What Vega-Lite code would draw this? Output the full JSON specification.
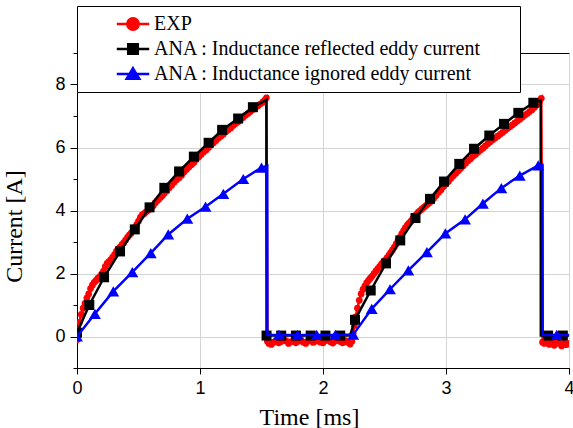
{
  "$schema": "https://vega.github.io/schema/vega-lite/v6.json",
  "width": 492,
  "height": 315,
  "autosize": {"type": "none"},
  "padding": {"left": 77, "top": 53, "right": 4, "bottom": 60},
  "background": "white",
  "config": {
    "view": {"stroke": "black", "strokeWidth": 1},
    "axis": {
      "domainColor": "black",
      "tickColor": "black",
      "gridColor": "#d4d4d4",
      "labelFont": "Liberation Sans",
      "labelFontSize": 18,
      "labelColor": "black",
      "titleFont": "Liberation Serif",
      "titleFontSize": 24,
      "titleFontWeight": "normal",
      "titleColor": "black"
    }
  },
  "datasets": {
    "exp": [
      {"t":0.000,"i":-0.10},{"t":0.010,"i":0.20},{"t":0.020,"i":0.45},{"t":0.035,"i":0.70},{"t":0.050,"i":0.90},{"t":0.065,"i":1.05},{"t":0.080,"i":1.22},{"t":0.095,"i":1.35},{"t":0.110,"i":1.52},{"t":0.125,"i":1.63},{"t":0.140,"i":1.72},{"t":0.155,"i":1.78},{"t":0.170,"i":1.85},{"t":0.185,"i":1.90},{"t":0.200,"i":1.98},{"t":0.215,"i":2.08},{"t":0.230,"i":2.22},{"t":0.245,"i":2.32},{"t":0.260,"i":2.38},{"t":0.275,"i":2.44},{"t":0.290,"i":2.52},{"t":0.305,"i":2.60},{"t":0.320,"i":2.70},{"t":0.335,"i":2.78},{"t":0.350,"i":2.84},{"t":0.365,"i":2.92},{"t":0.380,"i":2.98},{"t":0.395,"i":3.06},{"t":0.410,"i":3.15},{"t":0.425,"i":3.22},{"t":0.440,"i":3.28},{"t":0.455,"i":3.36},{"t":0.470,"i":3.46},{"t":0.485,"i":3.55},{"t":0.500,"i":3.66},{"t":0.515,"i":3.78},{"t":0.530,"i":3.86},{"t":0.545,"i":3.90},{"t":0.560,"i":3.95},{"t":0.575,"i":4.00},{"t":0.590,"i":4.05},{"t":0.605,"i":4.10},{"t":0.620,"i":4.15},{"t":0.635,"i":4.24},{"t":0.650,"i":4.30},{"t":0.665,"i":4.36},{"t":0.680,"i":4.42},{"t":0.695,"i":4.48},{"t":0.710,"i":4.55},{"t":0.730,"i":4.62},{"t":0.750,"i":4.72},{"t":0.770,"i":4.80},{"t":0.790,"i":4.90},{"t":0.810,"i":4.98},{"t":0.830,"i":5.04},{"t":0.850,"i":5.12},{"t":0.870,"i":5.22},{"t":0.890,"i":5.30},{"t":0.910,"i":5.38},{"t":0.930,"i":5.45},{"t":0.950,"i":5.52},{"t":0.970,"i":5.62},{"t":0.990,"i":5.70},{"t":1.010,"i":5.78},{"t":1.030,"i":5.86},{"t":1.050,"i":5.92},{"t":1.070,"i":6.00},{"t":1.090,"i":6.08},{"t":1.110,"i":6.15},{"t":1.130,"i":6.22},{"t":1.150,"i":6.30},{"t":1.170,"i":6.36},{"t":1.190,"i":6.42},{"t":1.210,"i":6.50},{"t":1.230,"i":6.56},{"t":1.250,"i":6.62},{"t":1.270,"i":6.70},{"t":1.290,"i":6.76},{"t":1.310,"i":6.82},{"t":1.330,"i":6.90},{"t":1.350,"i":6.95},{"t":1.370,"i":7.02},{"t":1.390,"i":7.08},{"t":1.410,"i":7.14},{"t":1.430,"i":7.20},{"t":1.450,"i":7.26},{"t":1.470,"i":7.32},{"t":1.490,"i":7.38},{"t":1.510,"i":7.44},{"t":1.525,"i":7.50},{"t":1.540,"i":7.58},
      {"t":1.548,"i":-0.15},{"t":1.56,"i":-0.22},{"t":1.58,"i":-0.25},{"t":1.60,"i":-0.18},{"t":1.62,"i":-0.12},{"t":1.64,"i":-0.20},{"t":1.66,"i":-0.16},{"t":1.68,"i":-0.10},{"t":1.70,"i":-0.14},{"t":1.72,"i":-0.22},{"t":1.74,"i":-0.17},{"t":1.76,"i":-0.12},{"t":1.78,"i":-0.20},{"t":1.80,"i":-0.15},{"t":1.82,"i":-0.10},{"t":1.84,"i":-0.18},{"t":1.86,"i":-0.22},{"t":1.88,"i":-0.14},{"t":1.90,"i":-0.12},{"t":1.92,"i":-0.19},{"t":1.94,"i":-0.15},{"t":1.96,"i":-0.10},{"t":1.98,"i":-0.18},{"t":2.00,"i":-0.20},{"t":2.02,"i":-0.13},{"t":2.04,"i":-0.11},{"t":2.06,"i":-0.17},{"t":2.08,"i":-0.21},{"t":2.10,"i":-0.14},{"t":2.12,"i":-0.10},{"t":2.14,"i":-0.16},{"t":2.16,"i":-0.20},{"t":2.18,"i":-0.13},{"t":2.20,"i":-0.18},{"t":2.22,"i":-0.24},{"t":2.235,"i":-0.15},
      {"t":2.245,"i":0.10},{"t":2.255,"i":0.35},{"t":2.265,"i":0.62},{"t":2.28,"i":0.90},{"t":2.295,"i":1.15},{"t":2.31,"i":1.35},{"t":2.325,"i":1.50},{"t":2.34,"i":1.60},{"t":2.355,"i":1.70},{"t":2.37,"i":1.78},{"t":2.385,"i":1.85},{"t":2.40,"i":1.92},{"t":2.415,"i":2.00},{"t":2.43,"i":2.08},{"t":2.445,"i":2.15},{"t":2.46,"i":2.22},{"t":2.475,"i":2.30},{"t":2.49,"i":2.36},{"t":2.505,"i":2.42},{"t":2.52,"i":2.50},{"t":2.535,"i":2.58},{"t":2.55,"i":2.66},{"t":2.565,"i":2.75},{"t":2.58,"i":2.84},{"t":2.595,"i":2.94},{"t":2.61,"i":3.05},{"t":2.625,"i":3.15},{"t":2.64,"i":3.26},{"t":2.655,"i":3.36},{"t":2.67,"i":3.46},{"t":2.685,"i":3.54},{"t":2.70,"i":3.60},{"t":2.715,"i":3.66},{"t":2.73,"i":3.74},{"t":2.745,"i":3.82},{"t":2.76,"i":3.88},{"t":2.775,"i":3.95},{"t":2.79,"i":4.00},{"t":2.805,"i":4.05},{"t":2.82,"i":4.10},{"t":2.835,"i":4.15},{"t":2.85,"i":4.20},{"t":2.865,"i":4.25},{"t":2.88,"i":4.30},{"t":2.90,"i":4.38},{"t":2.92,"i":4.48},{"t":2.94,"i":4.58},{"t":2.96,"i":4.66},{"t":2.98,"i":4.76},{"t":3.00,"i":4.84},{"t":3.02,"i":4.92},{"t":3.04,"i":5.02},{"t":3.06,"i":5.10},{"t":3.08,"i":5.18},{"t":3.10,"i":5.26},{"t":3.12,"i":5.34},{"t":3.14,"i":5.42},{"t":3.16,"i":5.50},{"t":3.18,"i":5.58},{"t":3.20,"i":5.64},{"t":3.22,"i":5.72},{"t":3.24,"i":5.78},{"t":3.26,"i":5.85},{"t":3.28,"i":5.92},{"t":3.30,"i":5.98},{"t":3.32,"i":6.05},{"t":3.34,"i":6.12},{"t":3.36,"i":6.18},{"t":3.38,"i":6.25},{"t":3.40,"i":6.30},{"t":3.42,"i":6.36},{"t":3.44,"i":6.42},{"t":3.46,"i":6.48},{"t":3.48,"i":6.54},{"t":3.50,"i":6.60},{"t":3.52,"i":6.66},{"t":3.54,"i":6.72},{"t":3.56,"i":6.78},{"t":3.58,"i":6.84},{"t":3.60,"i":6.90},{"t":3.62,"i":6.96},{"t":3.64,"i":7.02},{"t":3.66,"i":7.08},{"t":3.68,"i":7.14},{"t":3.70,"i":7.20},{"t":3.72,"i":7.28},{"t":3.74,"i":7.36},{"t":3.76,"i":7.46},{"t":3.775,"i":7.56},
      {"t":3.785,"i":-0.18},{"t":3.80,"i":-0.22},{"t":3.82,"i":-0.15},{"t":3.84,"i":-0.25},{"t":3.86,"i":-0.20},{"t":3.88,"i":-0.28},{"t":3.90,"i":-0.18},{"t":3.92,"i":-0.22},{"t":3.94,"i":-0.30},{"t":3.96,"i":-0.20},{"t":3.98,"i":-0.26},{"t":4.00,"i":-0.22}
    ],
    "reflLine": [
      {"t":0,"i":0.12},{"t":0.10,"i":1.0},{"t":0.22,"i":1.88},{"t":0.35,"i":2.70},{"t":0.47,"i":3.40},{"t":0.59,"i":4.10},{"t":0.71,"i":4.72},{"t":0.83,"i":5.24},{"t":0.95,"i":5.71},{"t":1.07,"i":6.15},{"t":1.18,"i":6.56},{"t":1.31,"i":6.92},{"t":1.43,"i":7.28},{"t":1.54,"i":7.51},{"t":1.541,"i":0.03},{"t":1.66,"i":0.03},{"t":1.78,"i":0.03},{"t":1.90,"i":0.03},{"t":2.02,"i":0.03},{"t":2.14,"i":0.03},{"t":2.22,"i":0.03},{"t":2.26,"i":0.53},{"t":2.388,"i":1.46},{"t":2.512,"i":2.32},{"t":2.628,"i":3.05},{"t":2.752,"i":3.76},{"t":2.87,"i":4.37},{"t":2.984,"i":4.92},{"t":3.108,"i":5.48},{"t":3.228,"i":5.96},{"t":3.352,"i":6.38},{"t":3.472,"i":6.75},{"t":3.588,"i":7.10},{"t":3.71,"i":7.42},{"t":3.77,"i":7.50},{"t":3.771,"i":0.03},{"t":3.83,"i":0.03},{"t":3.95,"i":0.03},{"t":4.0,"i":0.03}
    ],
    "reflMk": [
      {"t":0,"i":0.12},{"t":0.10,"i":1.0},{"t":0.22,"i":1.88},{"t":0.35,"i":2.70},{"t":0.47,"i":3.40},{"t":0.59,"i":4.10},{"t":0.71,"i":4.72},{"t":0.83,"i":5.24},{"t":0.95,"i":5.71},{"t":1.07,"i":6.15},{"t":1.18,"i":6.56},{"t":1.31,"i":6.92},{"t":1.43,"i":7.28},{"t":1.541,"i":0.03},{"t":1.66,"i":0.03},{"t":1.78,"i":0.03},{"t":1.90,"i":0.03},{"t":2.02,"i":0.03},{"t":2.14,"i":0.03},{"t":2.26,"i":0.53},{"t":2.388,"i":1.46},{"t":2.512,"i":2.32},{"t":2.628,"i":3.05},{"t":2.752,"i":3.76},{"t":2.87,"i":4.37},{"t":2.984,"i":4.92},{"t":3.108,"i":5.48},{"t":3.228,"i":5.96},{"t":3.352,"i":6.38},{"t":3.472,"i":6.75},{"t":3.588,"i":7.10},{"t":3.71,"i":7.42},{"t":3.83,"i":0.03},{"t":3.95,"i":0.03}
    ],
    "ignLine": [
      {"t":0,"i":0.0},{"t":0.146,"i":0.72},{"t":0.295,"i":1.43},{"t":0.45,"i":2.04},{"t":0.60,"i":2.65},{"t":0.742,"i":3.24},{"t":0.897,"i":3.74},{"t":1.045,"i":4.12},{"t":1.19,"i":4.53},{"t":1.352,"i":5.0},{"t":1.50,"i":5.36},{"t":1.547,"i":5.42},{"t":1.548,"i":0.05},{"t":1.642,"i":0.05},{"t":1.794,"i":0.05},{"t":1.949,"i":0.05},{"t":2.10,"i":0.05},{"t":2.246,"i":0.06},{"t":2.396,"i":0.88},{"t":2.545,"i":1.50},{"t":2.694,"i":2.10},{"t":2.845,"i":2.68},{"t":2.995,"i":3.27},{"t":3.155,"i":3.72},{"t":3.30,"i":4.22},{"t":3.45,"i":4.71},{"t":3.60,"i":5.11},{"t":3.75,"i":5.43},{"t":3.785,"i":5.45},{"t":3.786,"i":0.05},{"t":3.90,"i":0.05},{"t":4.0,"i":0.05}
    ],
    "ignMk": [
      {"t":0,"i":0.0},{"t":0.146,"i":0.72},{"t":0.295,"i":1.43},{"t":0.45,"i":2.04},{"t":0.60,"i":2.65},{"t":0.742,"i":3.24},{"t":0.897,"i":3.74},{"t":1.045,"i":4.12},{"t":1.19,"i":4.53},{"t":1.352,"i":5.0},{"t":1.50,"i":5.36},{"t":1.642,"i":0.05},{"t":1.794,"i":0.05},{"t":1.949,"i":0.05},{"t":2.10,"i":0.05},{"t":2.246,"i":0.06},{"t":2.396,"i":0.88},{"t":2.545,"i":1.50},{"t":2.694,"i":2.10},{"t":2.845,"i":2.68},{"t":2.995,"i":3.27},{"t":3.155,"i":3.72},{"t":3.30,"i":4.22},{"t":3.45,"i":4.71},{"t":3.60,"i":5.11},{"t":3.75,"i":5.43},{"t":3.90,"i":0.05}
    ]
  },
  "encoding": {
    "x": {
      "field": "t", "type": "quantitative",
      "scale": {"domain": [0, 4], "nice": false, "zero": false},
      "axis": {
        "title": "Time [ms]",
        "format": "d",
        "values": [0, 0.5, 1, 1.5, 2, 2.5, 3, 3.5, 4],
        "labelExpr": "datum.value % 1 ? '' : datum.label",
        "tickSize": {"condition": {"test": "datum.value % 1 != 0", "value": 3}, "value": 6},
        "gridOpacity": {"condition": {"test": "datum.value % 1 != 0", "value": 0}, "value": 1},
        "labelPadding": 5,
        "titlePadding": 8,
        "titleX": 232,
        "labelFlush": false,
        "labelOverlap": false
      }
    },
    "y": {
      "field": "i", "type": "quantitative",
      "scale": {"domain": [-1, 9], "nice": false, "zero": false},
      "axis": {
        "title": "Current [A]",
        "format": "d",
        "values": [-1, 0, 1, 2, 3, 4, 5, 6, 7, 8, 9],
        "labelExpr": "datum.value % 2 == 0 ? datum.label : ''",
        "tickSize": {"condition": {"test": "datum.value % 2 != 0", "value": 4}, "value": 7},
        "gridOpacity": {"condition": {"test": "datum.value % 2 != 0", "value": 0}, "value": 1},
        "labelPadding": 5,
        "titlePadding": 28,
        "titleY": 173,
        "labelFlush": false,
        "labelOverlap": false
      }
    }
  },
  "layer": [
    {
      "data": {"name": "exp"},
      "mark": {"type": "line", "strokeWidth": 2.5, "clip": true},
      "encoding": {
        "color": {
          "datum": "EXP",
          "scale": {
            "domain": ["EXP", "ANA : Inductance reflected eddy current", "ANA : Inductance ignored eddy current"],
            "range": ["#ff0000", "#000000", "#0000ff"]
          },
          "legend": {
            "orient": "none",
            "legendX": 0,
            "legendY": -47,
            "title": null,
            "fillColor": "white",
            "strokeColor": "black",
            "padding": 8,
            "labelFont": "Liberation Serif",
            "labelFontSize": 20,
            "labelColor": "black",
            "labelLimit": 700,
            "labelOffset": 11,
            "symbolOffset": 38,
            "symbolSize": 144,
            "symbolStrokeWidth": 2.5,
            "rowPadding": 4,
            "labelExpr": "datum.label + '\u00a0\u00a0\u00a0\u00a0\u00a0\u00a0\u200b'",
            "encode": {
              "symbols": {
                "update": {
                  "shape": {"signal": "datum.value === 'EXP' ? 'M-2.7,0H2.7M-0.95,0A0.95,0.95,0,1,0,0.95,0A0.95,0.95,0,1,0,-0.95,0Z' : datum.value === 'ANA : Inductance reflected eddy current' ? 'M-2.7,0H2.7M-0.8,-0.8H0.8V0.8H-0.8Z' : 'M-2.7,0H2.7M0,-0.95L1.05,0.8L-1.05,0.8Z'"},
                  "fill": {"scale": "color", "field": "value"},
                  "stroke": {"scale": "color", "field": "value"},
                  "strokeWidth": {"value": 2.5},
                  "opacity": {"value": 1}
                }
              }
            }
          }
        }
      }
    },
    {
      "data": {"name": "exp"},
      "mark": {"type": "point", "shape": "circle", "filled": true, "size": 45, "opacity": 1, "clip": true},
      "encoding": {"color": {"datum": "EXP"}}
    },
    {
      "data": {"name": "reflLine"},
      "mark": {"type": "line", "strokeWidth": 2.5, "clip": true},
      "encoding": {"color": {"datum": "ANA : Inductance reflected eddy current"}}
    },
    {
      "data": {"name": "reflMk"},
      "mark": {"type": "point", "shape": "square", "filled": true, "size": 100, "opacity": 1, "clip": true},
      "encoding": {"color": {"datum": "ANA : Inductance reflected eddy current"}}
    },
    {
      "data": {"name": "ignLine"},
      "mark": {"type": "line", "strokeWidth": 2.5, "clip": true},
      "encoding": {"color": {"datum": "ANA : Inductance ignored eddy current"}}
    },
    {
      "data": {"name": "ignMk"},
      "mark": {"type": "point", "shape": "triangle-up", "filled": true, "size": 140, "opacity": 1, "clip": true},
      "encoding": {"color": {"datum": "ANA : Inductance ignored eddy current"}}
    }
  ]
}
